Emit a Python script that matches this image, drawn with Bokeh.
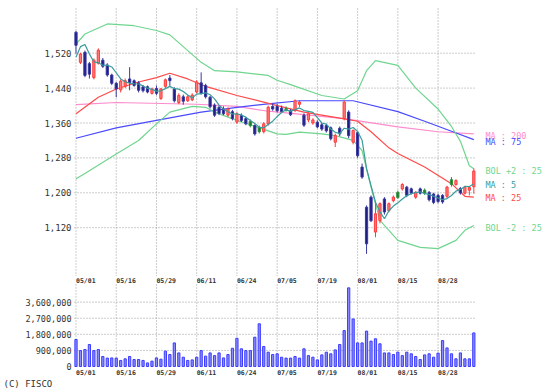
from bokeh.plotting import figure
from bokeh.layouts import column
from bokeh.models import Range1d, ColumnDataSource
from bokeh.core.properties import value
from bokeh.embed import file_html
from bokeh.resources import INLINE

# ---------------- data ----------------
date_idx = [0, 9, 18, 27, 36, 45, 54, 63, 72, 81]
date_labels = ["05/01", "05/16", "05/29", "06/11", "06/24",
               "07/05", "07/19", "08/01", "08/15", "08/28"]

open_ = [1568, 1499, 1522, 1496, 1464, 1497, 1504, 1493, 1470, 1451,
         1436, 1444, 1461, 1457, 1452, 1443, 1443, 1428, 1439, 1416,
         1444, 1463, 1438, 1407, 1420, 1411, 1413, 1431, 1452, 1446,
         1419, 1401, 1396, 1392, 1378, 1386, 1362, 1378, 1370, 1364,
         1354, 1349, 1340, 1358, 1398, 1398, 1394, 1393, 1388, 1389,
         1403, 1378, 1367, 1360, 1362, 1356, 1354, 1349, 1316, 1348,
         1370, 1385, 1316, 1338, 1259, 1167, 1190, 1110, 1136, 1186,
         1159, 1182, 1201, 1209, 1213, 1209, 1190, 1209, 1206, 1201,
         1197, 1194, 1194, 1192, 1230, 1219, 1210, 1199, 1206, 1214]
high = [1571, 1521, 1526, 1500, 1508, 1531, 1509, 1497, 1473, 1454,
        1460, 1462, 1488, 1460, 1456, 1447, 1446, 1441, 1446, 1440,
        1462, 1470, 1442, 1428, 1425, 1424, 1428, 1458, 1476, 1450,
        1422, 1405, 1400, 1398, 1396, 1390, 1385, 1382, 1374, 1368,
        1357, 1354, 1362, 1400, 1404, 1404, 1400, 1398, 1392, 1414,
        1412, 1382, 1384, 1371, 1366, 1360, 1358, 1352, 1336, 1352,
        1411, 1389, 1345, 1342, 1267, 1171, 1194, 1178, 1178, 1190,
        1178, 1194, 1205, 1222, 1216, 1212, 1204, 1212, 1210, 1204,
        1200, 1198, 1197, 1216, 1236, 1231, 1213, 1216, 1215, 1256]
low = [1519, 1495, 1465, 1462, 1460, 1494, 1486, 1466, 1447, 1419,
       1430, 1440, 1435, 1443, 1430, 1430, 1428, 1425, 1424, 1413,
       1440, 1445, 1407, 1403, 1402, 1408, 1410, 1428, 1425, 1416,
       1393, 1374, 1378, 1378, 1374, 1366, 1358, 1362, 1355, 1350,
       1331, 1336, 1336, 1354, 1388, 1384, 1383, 1386, 1376, 1385,
       1397, 1351, 1362, 1356, 1348, 1342, 1338, 1320, 1305, 1330,
       1366, 1325, 1311, 1280, 1232, 1060, 1133, 1098, 1130, 1150,
       1155, 1178, 1186, 1205, 1190, 1196, 1186, 1196, 1195, 1180,
       1174, 1176, 1175, 1188, 1214, 1216, 1196, 1196, 1194, 1198]
close = [1538, 1518, 1469, 1472, 1504, 1527, 1490, 1470, 1451, 1438,
         1456, 1457, 1453, 1446, 1435, 1434, 1431, 1438, 1428, 1438,
         1459, 1457, 1411, 1423, 1410, 1420, 1424, 1454, 1428, 1420,
         1397, 1378, 1382, 1381, 1392, 1370, 1381, 1366, 1358, 1354,
         1335, 1340, 1358, 1396, 1392, 1388, 1386, 1389, 1379, 1411,
         1408, 1355, 1381, 1367, 1351, 1346, 1342, 1324, 1331, 1335,
         1408, 1331, 1343, 1285, 1236, 1083, 1136, 1152, 1175, 1156,
         1175, 1190, 1189, 1219, 1194, 1199, 1201, 1199, 1199, 1184,
         1178, 1180, 1179, 1213, 1219, 1228, 1200, 1213, 1212, 1250]
volume = [1510000, 890000, 950000, 1230000, 890000, 950000, 560000, 470000, 480000, 470000,
          340000, 430000, 560000, 390000, 390000, 340000, 200000, 300000, 480000, 410000,
          860000, 670000, 1320000, 760000, 520000, 340000, 370000, 520000, 890000, 580000,
          760000, 610000, 760000, 480000, 670000, 1020000, 1580000, 990000, 890000, 890000,
          1640000, 2390000, 1120000, 800000, 670000, 710000, 520000, 470000, 470000, 560000,
          470000, 990000, 610000, 520000, 370000, 650000, 800000, 710000, 930000, 1230000,
          2010000, 4400000, 2660000, 1320000, 1320000, 1980000, 1420000, 1550000, 1270000, 760000,
          760000, 670000, 800000, 610000, 800000, 710000, 560000, 390000, 650000, 710000,
          520000, 750000, 1450000, 1040000, 710000, 430000, 760000, 430000, 430000, 1880000]
green_days = [39, 41, 47, 72, 78, 84]

# first MA5 values (need earlier sessions)
ma5_head = [1511, 1535, 1540, 1518]

ma25_x = [0, 5, 9, 14, 18, 21, 25, 29, 36, 42, 45, 51, 59, 63, 66, 70, 72, 78, 84, 87, 89]
ma25_y = [1381, 1419, 1438, 1454, 1464, 1474, 1461, 1444, 1423, 1408, 1400, 1385,
          1371, 1364, 1340, 1303, 1290, 1259, 1221, 1192, 1190]
ma75_x = [0, 9, 18, 28, 36, 43, 50, 62, 72, 78, 84, 89]
ma75_y = [1325, 1349, 1366, 1385, 1396, 1404, 1411, 1411, 1386, 1364, 1341, 1322]
ma200_x = [0, 9, 27, 36, 43, 60, 72, 81, 89]
ma200_y = [1402, 1407, 1403, 1398, 1387, 1370, 1351, 1340, 1335]
bolu_x = [0, 2, 7, 13, 18, 21, 25, 28, 31, 36, 43, 45, 48, 55, 60, 63, 65, 67,
          72, 76, 81, 84, 86, 87, 88, 89]
bolu_y = [1541, 1564, 1587, 1583, 1572, 1562, 1526, 1499, 1480, 1477, 1469, 1458,
          1448, 1423, 1415, 1434, 1480, 1503, 1492, 1440, 1392, 1352, 1318, 1290, 1262, 1255]
boll_x = [0, 2, 9, 14, 18, 21, 26, 29, 31, 36, 39, 45, 47, 50, 55, 58, 62, 64, 66,
          68, 72, 77, 81, 85, 87, 89]
boll_y = [1232, 1244, 1289, 1320, 1358, 1385, 1398, 1396, 1385, 1366, 1356, 1335,
          1334, 1339, 1335, 1331, 1320, 1297, 1213, 1137, 1091, 1075, 1072, 1091, 1114, 1125]

price_ticks = [1120, 1200, 1280, 1360, 1440, 1520]
vol_ticks = [0, 900000, 1800000, 2700000, 3600000]

legend_text = ["MA : 200", "MA : 75", "BOL +2 : 25", "MA : 5", "MA : 25", "BOL -2 : 25"]
credit_text = "(C) FISCO"

# ---------------- styling / layout ----------------
FONT = "DejaVu Sans Mono"
UP_FILL, UP_LINE = "#ff7b7b", "#ff3b3b"
DN_FILL, DN_LINE = "#1c1c82", "#3a3aa0"
GR_FILL, GR_LINE = "#1f7a2a", "#2f8f3f"
C_MA5, C_MA25, C_MA75, C_MA200, C_BOL = "#3a9c9c", "#ff4a4a", "#4a4aff", "#ff8ccc", "#6fd58f"
GRID = "#9a9a9a"
TXT = "#333333"

n = len(close)
idx = list(range(n))
ma5 = list(ma5_head) + [sum(close[i - 4:i + 1]) / 5.0 for i in range(4, n)]

fill, line = [], []
for i in idx:
    if i in green_days:
        fill.append(GR_FILL); line.append(GR_LINE)
    elif close[i] >= open_[i]:
        fill.append(UP_FILL); line.append(UP_LINE)
    else:
        fill.append(DN_FILL); line.append(DN_LINE)

src = ColumnDataSource(dict(x=idx, h=high, l=low,
                            top=[max(a, b) for a, b in zip(open_, close)],
                            bot=[min(a, b) for a, b in zip(open_, close)],
                            fill=fill, line=line, v=volume))

W = 553
PX = 4.47                              # pixels per session
ORIGIN = 75.5                          # pixel x of session 0
X0, XEND = -1.5 / PX, 89.6             # data extent of the chart area
xr = Range1d(-ORIGIN / PX, (W - ORIGIN) / PX)
LABEL_X = -4.5 / PX                    # right edge of y tick labels
PPX = 80 / 34.9                        # price per pixel
P_BOT = 1520 - (276 - 52.7) * PPX
P_TOP = 1520 + 52.7 * PPX
P_GRID_TOP = 1520 + (52.7 - 8) * PPX

common = dict(output_backend="svg", toolbar_location=None,
              x_axis_location=None, y_axis_location=None,
              min_border_left=0, min_border_right=0, min_border_top=0, min_border_bottom=0)

# ---- price panel ----
p = figure(width=W, height=276, x_range=xr, y_range=Range1d(P_BOT, P_TOP), **common)
p.outline_line_color = None
p.xgrid.visible = False
p.ygrid.visible = False
p.segment(x0=date_idx, x1=date_idx, y0=[P_BOT] * len(date_idx), y1=[P_GRID_TOP] * len(date_idx),
          line_color=GRID, line_dash="1 2")
p.segment(x0=[X0] * len(price_ticks), x1=[XEND] * len(price_ticks),
          y0=price_ticks, y1=price_ticks, line_color=GRID, line_dash="1 2")
p.text(x=[LABEL_X] * len(price_ticks), y=price_ticks, text=[f"{t:,}" for t in price_ticks],
       text_font=value(FONT), text_font_size=value("9px"), text_color=TXT,
       text_baseline="middle", text_align="right")

p.line(ma200_x, ma200_y, color=C_MA200, line_width=1.2)
p.line(ma75_x, ma75_y, color=C_MA75, line_width=1.2)
p.line(bolu_x, bolu_y, color=C_BOL, line_width=1.2)
p.line(boll_x, boll_y, color=C_BOL, line_width=1.2)
p.line(ma25_x, ma25_y, color=C_MA25, line_width=1.2)

p.segment(x0="x", y0="l", x1="x", y1="h", source=src, line_color="line", line_width=1)
p.vbar(x="x", top="top", bottom="bot", width=0.5, source=src,
       fill_color="fill", line_color="line", line_width=1)
p.line(idx, ma5, color=C_MA5, line_width=1.2)

legend_colors = [C_MA200, C_MA75, C_BOL, C_MA5, C_MA25, C_BOL]
legend_y = [1331, 1316, 1250, 1219, 1187, 1120]
p.text(x=[91.6] * len(legend_text), y=legend_y, text=legend_text, text_color=legend_colors,
       text_font=value(FONT), text_font_size=value("8.5px"),
       text_baseline="middle", text_align="left")

# ---- volume panel ----
VPX = 55949.0                          # shares per pixel
pv = figure(width=W, height=114, x_range=xr, y_range=Range1d(-24 * VPX, 90 * VPX), **common)
pv.outline_line_color = None
pv.xgrid.visible = False
pv.ygrid.visible = False
vg = vol_ticks[1:]
pv.segment(x0=[X0] * len(vg), x1=[XEND] * len(vg), y0=vg, y1=vg,
           line_color=GRID, line_dash="1 2")
pv.segment(x0=date_idx, x1=date_idx, y0=[0] * len(date_idx), y1=[83 * VPX] * len(date_idx),
           line_color=GRID, line_dash="1 2")

pv.vbar(x="x", top="v", bottom=0, width=0.5, source=src,
        fill_color="#8c8cff", line_color="#3c3cff", line_width=1)

pv.text(x=[LABEL_X] * len(vol_ticks), y=vol_ticks, text=[f"{t:,}" for t in vol_ticks],
        text_font=value(FONT), text_font_size=value("8.5px"), text_color=TXT,
        text_baseline="middle", text_align="right")

for yy in (86 * VPX, -6 * VPX):
    pv.text(x=date_idx, y=[yy] * len(date_idx), text=date_labels,
            text_font=value(FONT), text_font_size=value("6.5px"), text_font_style="bold",
            text_color=TXT, text_baseline="middle", text_align="left")

pv.text(x=[(3 - ORIGIN) / PX], y=[-17 * VPX], text=[credit_text],
        text_font=value(FONT), text_font_size=value("9px"), text_color=TXT,
        text_baseline="middle", text_align="left")

layout = column(p, pv, spacing=0)
open("out.html", "w").write(file_html(layout, INLINE))
